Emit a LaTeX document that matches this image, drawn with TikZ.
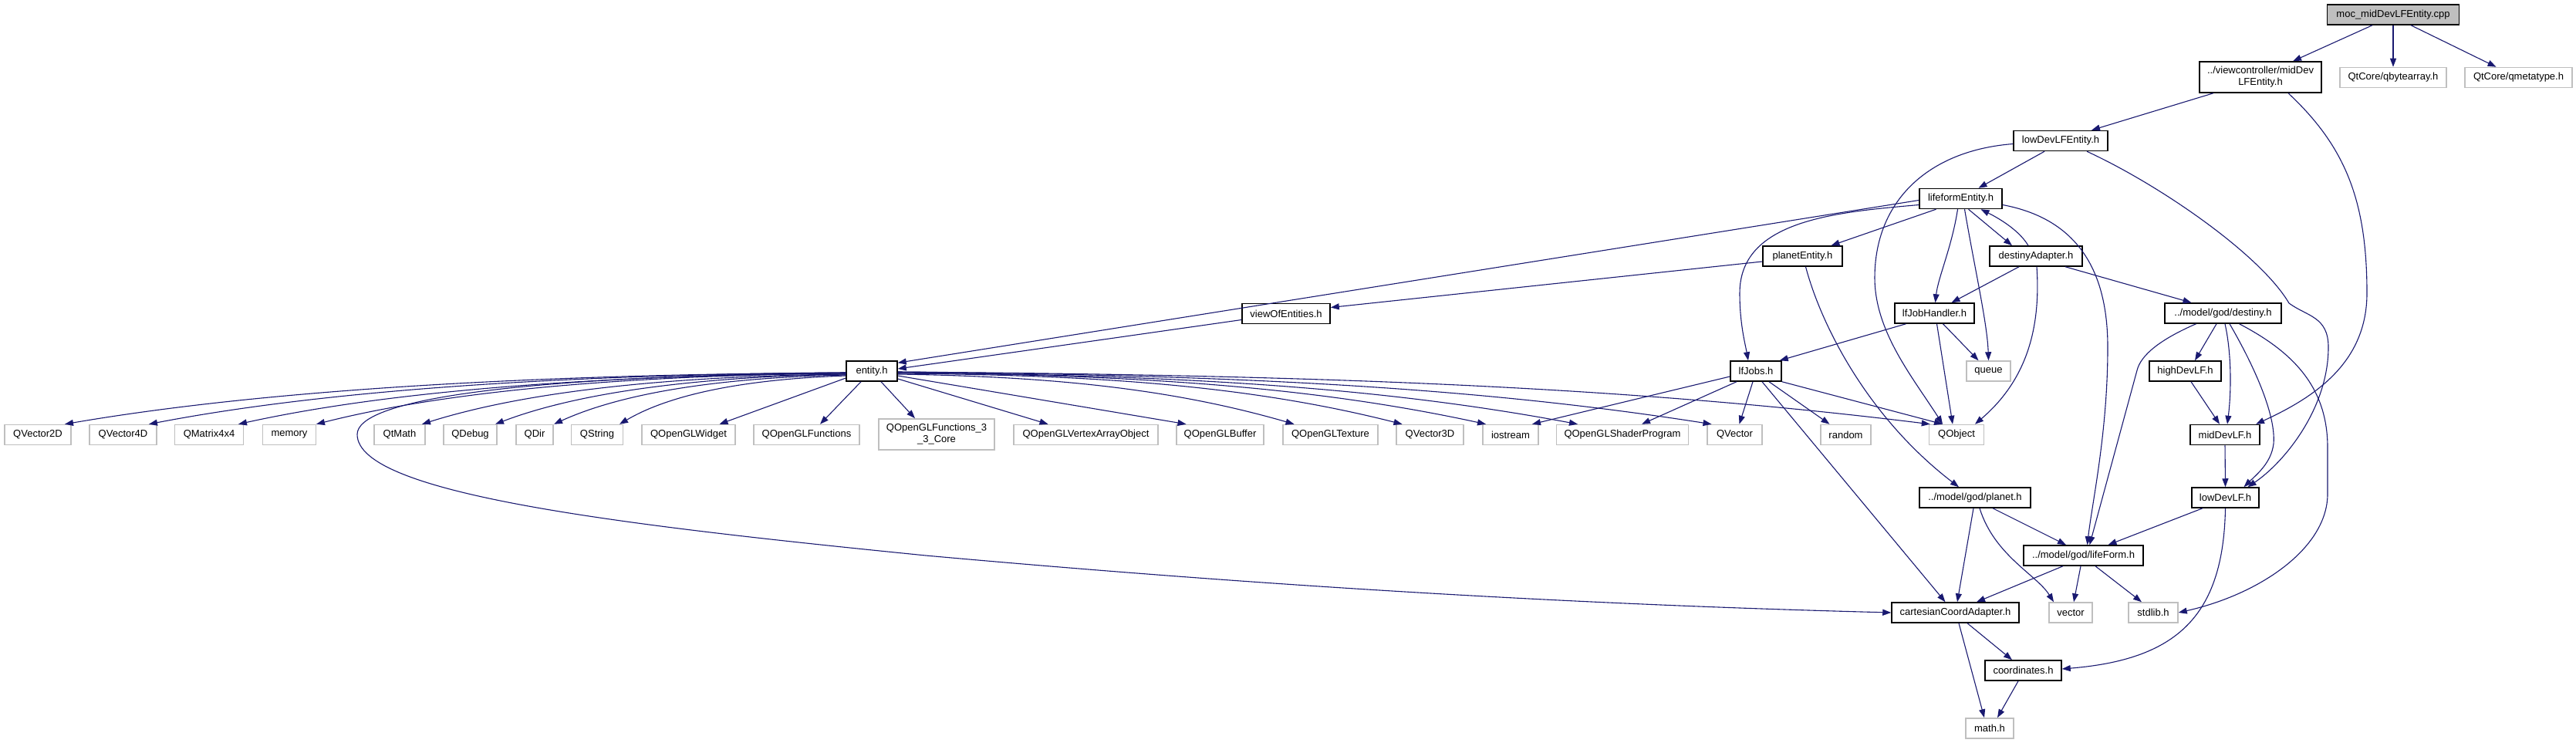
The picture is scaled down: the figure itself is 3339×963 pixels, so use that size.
\documentclass[tikz,border=0pt]{standalone}
\usepackage{fontspec}
\setmainfont{Liberation Sans}
\usetikzlibrary{arrows.meta}
\definecolor{edgecol}{HTML}{191970}
\definecolor{graybd}{HTML}{BFBFBF}
\tikzset{
  docnode/.style={draw=black, line width=1.5pt, fill=white, minimum height=26pt, inner sep=0pt,
    font=\fontsize{13}{15}\selectfont, align=center},
  extnode/.style={docnode, draw=graybd},
  rootnode/.style={docnode, fill=graybd},
  inc/.style={draw=edgecol, line width=1.1pt, -{Triangle[length=11pt,width=8pt]}},
}
\begin{document}
\begin{tikzpicture}[x=1pt,y=-1pt]
\useasboundingbox (0,0) rectangle (3339,963);
% nodes
\node[rootnode, minimum width=171] (root) at (3102,19) {moc\_midDevLFEntity.cpp};
\node[docnode, minimum width=158, minimum height=40] (vc) at (2930,100) {../viewcontroller/midDev\\LFEntity.h};
\node[extnode, minimum width=138] (qba) at (3102,100.5) {QtCore/qbytearray.h};
\node[extnode, minimum width=139] (qmt) at (3264.5,100.5) {QtCore/qmetatype.h};
\node[docnode, minimum width=122] (lde) at (2671,182.5) {lowDevLFEntity.h};
\node[docnode, minimum width=107] (lfe) at (2541.5,257.5) {lifeformEntity.h};
\node[docnode, minimum width=103] (pe) at (2336.5,332) {planetEntity.h};
\node[docnode, minimum width=120] (da) at (2639,332) {destinyAdapter.h};
\node[docnode, minimum width=103] (jh) at (2507.5,406) {lfJobHandler.h};
\node[docnode, minimum width=151] (des) at (2881.5,406) {../model/god/destiny.h};
\node[docnode, minimum width=114] (voe) at (1667,406.5) {viewOfEntities.h};
\node[docnode, minimum width=66] (jobs) at (2276,481) {lfJobs.h};
\node[extnode, minimum width=57] (queue) at (2577.5,481) {queue};
\node[docnode, minimum width=93] (hdl) at (2832.5,481) {highDevLF.h};
\node[docnode, minimum width=66] (ent) at (1130,481) {entity.h};
% bottom row of entity.h includes
\node[extnode, minimum width=86] (qv2) at (49,563.5) {QVector2D};
\node[extnode, minimum width=87] (qv4) at (159.5,563.5) {QVector4D};
\node[extnode, minimum width=89] (qm4) at (271,563.5) {QMatrix4x4};
\node[extnode, minimum width=69] (mem) at (375,563.5) {memory};
\node[extnode, minimum width=66] (qtm) at (518,563.5) {QtMath};
\node[extnode, minimum width=69] (qdb) at (609.5,563.5) {QDebug};
\node[extnode, minimum width=48] (qdir) at (693,563.5) {QDir};
\node[extnode, minimum width=67] (qstr) at (774,563.5) {QString};
\node[extnode, minimum width=121] (qglw) at (892.5,563.5) {QOpenGLWidget};
\node[extnode, minimum width=137] (qglf) at (1045.5,563.5) {QOpenGLFunctions};
\node[extnode, minimum width=150, minimum height=40] (q33) at (1214,563) {QOpenGLFunctions\_3\\\_3\_Core};
\node[extnode, minimum width=187] (vao) at (1407.5,563.5) {QOpenGLVertexArrayObject};
\node[extnode, minimum width=113] (buf) at (1581.5,563.5) {QOpenGLBuffer};
\node[extnode, minimum width=123] (tex) at (1724.5,563.5) {QOpenGLTexture};
\node[extnode, minimum width=87] (qv3) at (1853.5,563.5) {QVector3D};
\node[extnode, minimum width=72] (ios) at (1958,563.5) {iostream};
\node[extnode, minimum width=171] (shp) at (2103,563.5) {QOpenGLShaderProgram};
\node[extnode, minimum width=71] (qvec) at (2248.5,563.5) {QVector};
\node[extnode, minimum width=65] (rnd) at (2392.5,563.5) {random};
\node[extnode, minimum width=71] (qobj) at (2536,563.5) {QObject};
\node[docnode, minimum width=90] (mdl) at (2884,563.5) {midDevLF.h};
\node[docnode, minimum width=144] (planet) at (2560,645) {../model/god/planet.h};
\node[docnode, minimum width=87] (ldl) at (2884.5,645) {lowDevLF.h};
\node[docnode, minimum width=155] (lf) at (2700.5,720) {../model/god/lifeForm.h};
\node[docnode, minimum width=165] (cca) at (2534.5,794) {cartesianCoordAdapter.h};
\node[extnode, minimum width=56] (vector) at (2684,794) {vector};
\node[extnode, minimum width=64] (stdlib) at (2791,794) {stdlib.h};
\node[docnode, minimum width=99] (coord) at (2622.5,869) {coordinates.h};
\node[extnode, minimum width=62] (math) at (2579,944) {math.h};
% edges from the root
\draw[inc] ([xshift=-27]root.south) -- ([xshift=42]vc.north);
\draw[inc] (root.south) -- (qba.north);
\draw[inc] ([xshift=23]root.south) -- ([xshift=-29]qmt.north);
% midDevLFEntity.h
\draw[inc] ([xshift=-61]vc.south) -- ([xshift=40]lde.north);
\draw[inc] ([xshift=36]vc.south) .. controls (3040,190) and (3068,260) .. (3068,380)
  .. controls (3068,470) and (3000,515) .. ([xshift=40]mdl.north);
% lowDevLFEntity.h
\draw[inc] ([xshift=-21]lde.south) -- ([xshift=23]lfe.north);
\draw[inc] ([yshift=-4]lde.west) .. controls (2500,195) and (2430,260) .. (2430,360)
  .. controls (2430,430) and (2480,490) .. ([xshift=-18]qobj.north);
\draw[inc] ([xshift=34]lde.south) .. controls (2800,240) and (2930,330) .. (2967,393)
  .. controls (2990,410) and (3018,410) .. (3018,450)
  .. controls (3018,530) and (2960,600) .. ([xshift=29]ldl.north);
% lifeformEntity.h
\draw[inc] ([yshift=-2]lfe.west) -- ([yshift=-3]ent.north east);
\draw[inc] ([yshift=-8]lfe.west) .. controls (2380,275) and (2255,285) .. (2255,380)
  .. controls (2255,420) and (2262,445) .. ([xshift=-10]jobs.north);
\draw[inc] ([xshift=-32]lfe.south) -- ([xshift=37]pe.north);
\draw[inc] ([xshift=-4]lfe.south) .. controls (2530,320) and (2512,360) .. ([xshift=1]jh.north);
\draw[inc] ([xshift=5]lfe.south) .. controls (2560,350) and (2576,420) .. (queue.north);
\draw[inc] ([xshift=10]lfe.south) -- ([xshift=-31]da.north);
\draw[inc] ([yshift=-8]lfe.east) .. controls (2700,285) and (2732,360) .. (2732,450)
  .. controls (2732,560) and (2712,650) .. ([xshift=5]lf.north);
% destinyAdapter.h
\draw[inc] ([xshift=-10]da.north) .. controls (2618,300) and (2595,285) .. ([xshift=26]lfe.south);
\draw[inc] ([xshift=-22]da.south) -- ([xshift=22]jh.north);
\draw[inc] ([xshift=38]da.south) -- ([xshift=-41]des.north);
\draw[inc] ([xshift=1]da.south) .. controls (2645,420) and (2630,490) .. ([xshift=24]qobj.north);
% planetEntity.h
\draw[inc] ([yshift=-7]pe.west) -- ([yshift=8]voe.east);
\draw[inc] ([xshift=4]pe.south) .. controls (2360,420) and (2420,540) .. ([xshift=-21]planet.north);
% viewOfEntities.h
\draw[inc] ([yshift=-8]voe.west) -- ([yshift=3]ent.east);
% lfJobHandler.h
\draw[inc] ([xshift=-37]jh.south) -- ([xshift=-3]jobs.north east);
\draw[inc] ([xshift=3]jh.south) -- ([xshift=-5]qobj.north);
\draw[inc] ([xshift=11]jh.south) -- ([xshift=-13]queue.north);
% lfJobs.h
\draw[inc] ([yshift=-7]jobs.west) -- ([xshift=28]ios.north);
\draw[inc] ([xshift=-25]jobs.south) -- ([xshift=25]shp.north);
\draw[inc] ([xshift=-4]jobs.south) -- ([xshift=6]qvec.north);
\draw[inc] ([xshift=17]jobs.south) -- ([xshift=-21]rnd.north);
\draw[inc] (jobs.south east) -- ([xshift=-18]qobj.north);
\draw[inc] ([xshift=8]jobs.south) -- ([xshift=-13]cca.north);
% entity.h to the left
\draw[inc] ([yshift=-2]ent.west) .. controls (590,486) and (287,515) .. ([xshift=35]qv2.north);
\draw[inc] ([yshift=-2]ent.west) .. controls (645,486) and (374,515) .. ([xshift=33.5]qv4.north);
\draw[inc] ([yshift=-3]ent.west) .. controls (703,487) and (467,515) .. ([xshift=38]qm4.north);
\draw[inc] ([yshift=-3]ent.west) .. controls (753,487) and (547,515) .. ([xshift=35]mem.north);
\draw[inc] ([yshift=-4]ent.west) .. controls (822,488) and (657,515) .. ([xshift=29]qtm.north);
\draw[inc] ([yshift=-4]ent.west) .. controls (870,489) and (733,515) .. ([xshift=32.5]qdb.north);
\draw[inc] ([yshift=-5]ent.west) .. controls (907,490) and (794,515) .. ([xshift=25]qdir.north);
\draw[inc] ([yshift=-6]ent.west) .. controls (950,492) and (862,515) .. ([xshift=29]qstr.north);
\draw[inc] ([yshift=-9]ent.west) -- ([xshift=40]qglw.north);
\draw[inc] ([xshift=-14]ent.south) -- ([xshift=17.5]qglf.north);
\draw[inc] ([yshift=-2]ent.west) .. controls (650,488) and (463,520) .. (463,563)
  .. controls (463,640) and (800,680) .. (1200,720)
  .. controls (1700,765) and (2100,785) .. (cca.west);
% entity.h to the right
\draw[inc] ([xshift=12]ent.south) -- ([xshift=-28]q33.north);
\draw[inc] ([yshift=-10]ent.east) -- ([xshift=-49]vao.north);
\draw[inc] ([yshift=-6]ent.east) -- ([xshift=-44]buf.north);
\draw[inc] ([yshift=-4]ent.east) .. controls (1369,488) and (1523,505) .. ([xshift=-47]tex.north);
\draw[inc] ([yshift=-3]ent.east) .. controls (1425,486) and (1621,500) .. ([xshift=-36]qv3.north);
\draw[inc] ([yshift=-2]ent.east) .. controls (1468,486) and (1697,500) .. ([xshift=-32]ios.north);
\draw[inc] ([yshift=-2]ent.east) .. controls (1516,486) and (1780,500) .. ([xshift=-58]shp.north);
\draw[inc] ([yshift=-1]ent.east) .. controls (1585,486) and (1901,500) .. ([xshift=-30]qvec.north);
\draw[inc] ([yshift=-1]ent.east) .. controls (1695,486) and (2100,500) .. ([xshift=2]qobj.north west);
% destiny.h
\draw[inc] ([xshift=-35]des.south) .. controls (2800,440) and (2775,460) .. (2770,480)
  -- ([xshift=8]lf.north);
\draw[inc] ([xshift=-8.5]des.south) -- ([xshift=12.5]hdl.north);
\draw[inc] ([xshift=2.5]des.south) .. controls (2893,460) and (2892,510) .. ([xshift=3]mdl.north);
\draw[inc] ([xshift=8.5]des.south) .. controls (2925,480) and (2950,540) .. (2947,575)
  .. controls (2944,600) and (2925,615) .. ([xshift=24]ldl.north);
\draw[inc] ([xshift=21]des.south) .. controls (2970,455) and (3017,500) .. (3017,580)
  -- (3017,640) .. controls (3017,710) and (2930,770) .. (stdlib.east);
% highDevLF, midDevLF, lowDevLF
\draw[inc] ([xshift=7.5]hdl.south) -- ([xshift=-7]mdl.north);
\draw[inc] (mdl.south) -- (ldl.north);
\draw[inc] ([xshift=-29.5]ldl.south) -- ([xshift=32]lf.north);
\draw[inc] (ldl.south) .. controls (2882,800) and (2820,855) .. ([yshift=2]coord.east);
% planet.h
\draw[inc] ([xshift=23]planet.south) -- ([xshift=-22.5]lf.north);
\draw[inc] ([xshift=-2]planet.south) -- ([xshift=2.5]cca.north);
\draw[inc] ([xshift=6]planet.south) .. controls (2585,720) and (2640,745) .. ([xshift=-22]vector.north);
% lifeForm.h
\draw[inc] ([xshift=-26.5]lf.south) -- ([xshift=27.5]cca.north);
\draw[inc] ([xshift=-3.5]lf.south) -- ([xshift=4]vector.north);
\draw[inc] ([xshift=15.5]lf.south) -- ([xshift=-15]stdlib.north);
% cartesianCoordAdapter.h, coordinates.h
\draw[inc] ([xshift=15.5]cca.south) -- ([xshift=-14.5]coord.north);
\draw[inc] ([xshift=4.5]cca.south) -- ([xshift=-7]math.north);
\draw[inc] ([xshift=-6.5]coord.south) -- ([xshift=10]math.north);
\end{tikzpicture}
\end{document}
